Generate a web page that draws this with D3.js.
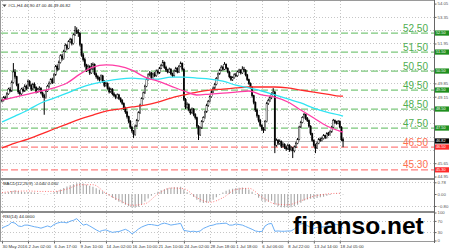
<!DOCTYPE html>
<html>
<head>
<meta charset="utf-8">
<script src="https://cdn.jsdelivr.net/npm/d3@7"></script>
<style>
  html, body { margin: 0; padding: 0; background: #fff; overflow: hidden; }
  svg { display: block; font-family: "Liberation Sans", Arial, sans-serif; }
</style>
</head>
<body>
<div id="chart"></div>
<script>
// ---- data (H4 bars, 30 May - 18 Jul 2016) ----
const closes = [
  48.95,49.10,49.05,49.30,49.55,49.45,49.90,50.45,50.20,49.80,
  49.40,49.30,49.55,49.45,49.70,49.60,49.95,49.75,49.55,49.80,
  49.65,49.40,49.55,49.60,49.35,49.20,49.10,49.45,49.70,49.85,
  50.05,49.90,50.30,50.75,50.60,50.95,51.30,51.15,51.55,51.85,
  51.70,52.05,52.15,51.95,52.40,52.65,52.55,52.50,51.90,51.35,
  51.10,50.80,50.55,50.75,50.40,50.60,50.85,50.35,50.20,50.10,
  50.05,50.25,49.95,49.75,49.85,49.60,49.40,49.55,49.30,49.20,
  49.10,49.25,49.05,48.95,48.80,48.55,48.35,48.10,47.85,47.55,
  47.35,47.15,47.60,47.90,48.30,48.70,49.05,49.35,49.70,50.05,
  50.30,50.40,50.15,50.35,50.25,50.50,50.40,50.65,50.80,50.95,
  50.70,50.55,50.45,50.60,50.35,50.25,50.50,50.65,50.45,50.75,
  50.90,50.60,49.00,48.60,48.75,48.45,48.30,48.50,48.20,48.05,
  47.60,47.15,47.50,47.85,48.05,48.35,48.70,48.90,49.15,49.40,
  49.60,49.80,50.10,50.35,50.55,50.70,50.60,50.85,50.65,50.45,
  50.20,50.05,50.15,50.30,50.25,50.45,50.55,50.40,50.60,50.55,
  50.30,50.05,49.85,49.65,49.20,48.85,48.45,48.15,47.90,47.65,
  47.45,47.40,47.85,48.80,48.95,49.10,49.30,49.40,46.60,46.85,
  46.70,46.80,46.55,46.65,46.50,46.40,46.60,46.35,46.45,46.30,
  46.50,46.70,46.90,47.55,47.80,48.05,48.20,48.00,47.90,47.60,
  47.20,46.85,46.60,46.45,46.70,46.90,46.85,46.95,47.10,47.00,
  47.20,47.15,47.30,47.55,47.90,47.80,47.75,47.85,47.55,46.90,
  46.82
];
const highs = [
  49.05,49.18,49.20,49.38,49.62,49.65,50.00,50.92,50.60,50.25,
  49.85,49.50,49.62,49.65,49.80,49.78,50.05,50.02,49.82,49.88,
  49.90,49.70,49.62,49.70,49.65,49.42,49.30,49.50,49.78,49.95,
  50.12,50.15,50.38,50.82,50.85,51.05,51.38,51.40,51.62,51.95,
  51.92,52.12,52.25,52.22,52.48,52.87,52.80,52.70,52.55,51.95,
  51.45,51.20,50.88,50.85,50.80,50.92,50.95,50.90,50.42,50.28,
  50.20,50.32,50.30,50.02,49.92,49.90,49.68,49.62,49.60,49.38,
  49.28,49.32,49.30,49.12,49.02,48.85,48.62,48.40,48.15,47.92,
  47.62,47.40,47.68,47.98,48.38,48.78,49.12,49.42,49.78,50.12,
  50.38,50.50,50.45,50.42,50.45,50.58,50.58,50.72,50.88,51.08,
  51.00,50.78,50.62,50.68,50.65,50.42,50.58,50.72,50.70,50.82,
  51.00,50.95,50.65,49.08,48.85,48.80,48.52,48.58,48.55,48.28,
  48.10,47.65,47.58,47.92,48.12,48.42,48.78,48.98,49.22,49.48,
  49.68,49.88,50.18,50.42,50.62,50.80,50.78,50.97,50.90,50.70,
  50.50,50.25,50.22,50.38,50.40,50.52,50.62,50.60,50.75,50.72,
  50.60,50.35,50.10,49.90,49.70,49.25,48.90,48.52,48.20,47.98,
  47.70,47.55,47.92,48.88,49.05,49.20,49.38,49.60,49.45,46.95,
  46.92,46.90,46.85,46.75,46.70,46.58,46.68,46.65,46.55,46.50,
  46.58,46.78,46.98,47.62,47.88,48.12,48.29,48.25,48.08,47.95,
  47.65,47.25,46.90,46.68,46.78,46.98,47.00,47.05,47.18,47.15,
  47.28,47.30,47.38,47.62,47.98,47.95,47.88,47.92,47.90,47.60,
  47.00
];
const lows = [
  48.85,48.90,48.98,49.00,49.25,49.38,49.40,49.85,50.10,49.70,
  49.30,49.20,49.25,49.38,49.40,49.50,49.55,49.68,49.45,49.50,
  49.58,49.32,49.35,49.48,49.28,49.10,48.20,49.05,49.40,49.62,
  49.80,49.82,49.85,50.25,50.50,50.55,50.90,51.05,51.10,51.50,
  51.60,51.65,51.98,51.85,51.90,52.35,52.45,52.30,51.80,51.25,
  51.00,50.70,50.45,50.50,50.30,50.35,50.55,50.28,50.10,50.00,
  49.95,50.00,49.88,49.65,49.68,49.52,49.32,49.35,49.22,49.12,
  49.02,49.05,48.98,48.85,48.72,48.45,48.25,48.00,47.75,47.45,
  47.25,46.97,47.10,47.55,47.85,48.25,48.65,49.00,49.30,49.65,
  50.00,50.22,50.08,50.10,50.18,50.20,50.32,50.35,50.60,50.75,
  50.62,50.45,50.38,50.40,50.28,50.18,50.20,50.45,50.38,50.40,
  50.70,50.52,48.92,48.50,48.52,48.38,48.20,48.25,48.12,47.95,
  47.50,46.87,47.08,47.45,47.80,48.00,48.30,48.62,48.85,49.10,
  49.35,49.55,49.75,50.05,50.30,50.50,50.52,50.55,50.58,50.38,
  50.12,49.98,49.98,50.10,50.18,50.20,50.40,50.32,50.35,50.45,
  50.22,49.98,49.78,49.55,49.10,48.75,48.35,48.05,47.80,47.55,
  47.35,47.24,47.35,47.80,48.72,48.88,49.02,49.25,46.18,46.52,
  46.60,46.62,46.45,46.48,46.40,46.30,46.35,46.25,46.28,45.92,
  46.22,46.45,46.65,46.85,47.50,47.75,48.00,47.92,47.82,47.52,
  47.12,46.78,46.52,46.18,46.40,46.65,46.78,46.80,46.90,46.92,
  46.95,47.08,47.10,47.25,47.50,47.72,47.68,47.70,47.48,46.82,
  46.49
];

// moving averages, read every 8th bar (plus the last one)
const maBars = d3.range(0, 209, 8).concat([210]);
const maPink = [48.97,49.13,49.29,49.45,49.61,49.87,50.34,50.71,50.82,50.76,50.55,50.18,49.97,49.71,
                49.45,49.24,49.29,49.34,49.39,49.45,49.24,49.13,48.87,48.45,48.03,47.61,47.34,47.29];
const maCyan = [47.82,48.13,48.45,48.82,49.08,49.34,49.61,49.82,49.97,50.08,50.13,50.08,50.08,50.18,
                50.18,50.13,50.08,49.97,49.76,49.61,49.45,49.24,49.03,48.82,48.55,48.34,48.18,48.13];
const maRed  = [46.45,46.71,46.92,47.18,47.45,47.71,47.97,48.18,48.39,48.50,48.61,48.71,48.87,49.08,
                49.24,49.39,49.50,49.55,49.61,49.66,49.66,49.66,49.61,49.50,49.39,49.29,49.18,49.18];

// MACD main (every 2nd bar) and signal (every 8th bar)
const macdBars = d3.range(0, 211, 2);
const macdMain = [
  0.05,0.08,0.12,0.2,0.25,0.2,0.15,0.13,0.14,0.12,
  0.1,0.06,0.02,-0.04,-0.02,0.03,0.1,0.2,0.3,0.4,
  0.5,0.58,0.65,0.72,0.74,0.7,0.62,0.55,0.48,0.38,
  0.28,0.18,0.06,-0.1,-0.25,-0.4,-0.52,-0.62,-0.72,-0.82,
  -0.9,-0.92,-0.85,-0.7,-0.5,-0.3,-0.12,0.05,0.15,0.25,
  0.32,0.38,0.42,0.45,0.45,0.48,0.3,0.12,-0.05,-0.2,
  -0.38,-0.55,-0.6,-0.58,-0.5,-0.38,-0.22,-0.05,0.1,0.22,
  0.3,0.35,0.4,0.42,0.44,0.4,0.3,0.15,-0.05,-0.25,
  -0.45,-0.55,-0.5,-0.45,-0.7,-0.82,-0.88,-0.9,-0.9,-0.88,
  -0.82,-0.72,-0.58,-0.45,-0.36,-0.32,-0.3,-0.27,-0.22,-0.18,
  -0.12,-0.06,0.0,0.03,0.04,-0.04
];
const signalBars = d3.range(0, 209, 8);
const macdSignal = [0.09,0.18,0.2,0.17,0.17,0.33,0.62,0.62,0.05,-0.4,-0.75,-0.65,0.0,0.4,
                    0.35,-0.25,-0.55,-0.25,0.3,0.38,-0.2,-0.65,-0.72,-0.45,-0.15,0.0,0.05];

// RSI(14), every 2nd bar
const rsiBars = d3.range(0, 211, 2);
const rsiValues = [
  45,50,55,65,62,52,50,55,55,52,
  49,47,44,48,52,48,57,62,65,65,
  63,69,72,78,66,55,58,52,45,38,
  32,36,38,33,29,31,32,36,40,34,
  24,31,41,48,53,57,57,55,53,59,
  62,59,55,57,59,61,36,34,32,33,
  31,34,43,48,53,55,59,60,61,62,
  55,55,59,57,55,50,45,40,34,32,
  32,52,59,61,33,34,33,33,34,34,
  41,52,59,61,53,47,43,47,48,48,
  52,53,59,57,55,44
];

// axes
const timeBars = d3.range(0, 209, 16);
const timeLabels = ["30 May 2016","2 Jun 02:00","6 Jun 17:00","9 Jun 10:00","14 Jun 02:00","16 Jun 10:00",
                    "21 Jun 10:00","24 Jun 02:00","28 Jun 18:00","1 Jul 18:00","6 Jul 06:00","8 Jul 22:00",
                    "13 Jul 14:00","18 Jul 05:00"];
const priceTicks = [54.05,53.35,52.65,51.95,51.25,50.55,49.85,49.15,48.45,47.75,47.05,46.35,45.65,44.95];
const macdTicks = [0.78, 0, -0.8];
const rsiTicks = [100, 70, 30, 0];
const greenLevels = [52.5, 51.5, 50.5, 49.5, 48.5, 47.5];
const redLevels = [46.5, 45.3];

// ---- layout ----
const W = 450, H = 251;
const left = 1, right = 434;
const mainTop = 1, mainBottom = 178;
const macdTop = 180, macdBottom = 211;
const rsiTop = 213, rsiBottom = 241;

const svg = d3.select("#chart").append("svg").attr("width", W).attr("height", H);

const x = d3.scaleLinear().domain([0, 266]).range([2, right]);
const y = d3.scaleLinear().domain([44.95, 54.05]).range([176.5, 3.6]);
const yMacd = d3.scaleLinear().domain([-0.9, 0.8]).range([207.5, 182]);
const yRsi = d3.scaleLinear().domain([0, 100]).range([240.5, 212.5]);

const gridColor = "#c6c6c6";
const tiny = 4.3;
const tinyFont = "Liberation Sans, Arial, sans-serif";
const last = closes.length - 1;

//clip paths for each panel
[["clipMain", mainTop, mainBottom], ["clipMacd", macdTop, macdBottom], ["clipRsi", rsiTop, rsiBottom]]
  .forEach(([id, t, b]) => {
    svg.append("clipPath").attr("id", id)
      .append("rect").attr("x", left).attr("y", t).attr("width", right - left).attr("height", b - t);
  });

//dotted grid, vertical lines in each panel
function vGrid(t, b) {
  svg.append("g").selectAll("line").data(timeBars).enter().append("line")
    .attr("x1", d => Math.round(x(d)) + 0.5).attr("x2", d => Math.round(x(d)) + 0.5)
    .attr("y1", t).attr("y2", b)
    .attr("stroke", gridColor).attr("stroke-width", 1).attr("stroke-dasharray", "1,2");
}
function hGrid(vals, scale) {
  svg.append("g").selectAll("line").data(vals).enter().append("line")
    .attr("x1", left).attr("x2", right)
    .attr("y1", d => Math.round(scale(d)) + 0.5).attr("y2", d => Math.round(scale(d)) + 0.5)
    .attr("stroke", gridColor).attr("stroke-width", 1).attr("stroke-dasharray", "1,2");
}
vGrid(mainTop, mainBottom);
vGrid(macdTop, macdBottom);
vGrid(rsiTop, rsiBottom);
hGrid(priceTicks.slice(1, -1), y);
hGrid([0.78, -0.8], yMacd);
hGrid([70, 30], yRsi);

// ---- main panel ----
const main = svg.append("g").attr("clip-path", "url(#clipMain)");

//level lines
main.selectAll(".glev").data(greenLevels).enter().append("line")
  .attr("x1", left).attr("x2", right)
  .attr("y1", d => y(d)).attr("y2", d => y(d))
  .attr("stroke", "#7cc87c").attr("stroke-width", 1.2).attr("stroke-dasharray", "7,3");
main.selectAll(".rlev").data(redLevels).enter().append("line")
  .attr("x1", left).attr("x2", right)
  .attr("y1", d => y(d)).attr("y2", d => y(d))
  .attr("stroke", "#ff8080").attr("stroke-width", 1.2).attr("stroke-dasharray", "7,3");

//bid line
main.append("line")
  .attr("x1", left).attr("x2", right)
  .attr("y1", Math.round(y(closes[last])) + 0.5).attr("y2", Math.round(y(closes[last])) + 0.5)
  .attr("stroke", "#bdbdbd").attr("stroke-width", 1);

//candles
const bars = closes.map((c, i) => ({
  i: i, o: i === 0 ? c : closes[i - 1], c: c, h: highs[i], l: lows[i]
}));
main.append("g").selectAll("line").data(bars).enter().append("line")
  .attr("x1", d => x(d.i)).attr("x2", d => x(d.i))
  .attr("y1", d => y(d.h)).attr("y2", d => y(d.l))
  .attr("stroke", "#000").attr("stroke-width", 1);
main.append("g").selectAll("rect").data(bars).enter().append("rect")
  .attr("x", d => x(d.i) - 0.7).attr("width", 1.4)
  .attr("y", d => y(Math.max(d.o, d.c)))
  .attr("height", d => Math.max(0.6, Math.abs(y(d.o) - y(d.c))))
  .attr("fill", d => d.c >= d.o ? "#fff" : "#000")
  .attr("stroke", "#000").attr("stroke-width", 0.4);

//moving averages
function maLine(vals, color) {
  const line = d3.line().x((d, k) => x(maBars[k])).y(d => y(d)).curve(d3.curveMonotoneX);
  main.append("path").datum(vals)
    .attr("d", line).attr("fill", "none")
    .attr("stroke", color).attr("stroke-width", 1.3);
}
maLine(maRed, "#ff2a2a");
maLine(maCyan, "#30e4f2");
maLine(maPink, "#ff3da6");

//level labels
svg.selectAll(".glab").data(greenLevels).enter().append("text")
  .attr("x", 428).attr("y", d => y(d) - 1.5)
  .attr("text-anchor", "end").attr("font-size", 10)
  .attr("fill", "#4fae4f").text(d => d.toFixed(2));
svg.selectAll(".rlab").data(redLevels).enter().append("text")
  .attr("x", 428).attr("y", d => y(d) - 1.5)
  .attr("text-anchor", "end").attr("font-size", 10)
  .attr("fill", "#ff7050").text(d => d.toFixed(2));

// ---- MACD panel ----
const macdG = svg.append("g").attr("clip-path", "url(#clipMacd)");
macdG.selectAll("line").data(macdMain).enter().append("line")
  .attr("x1", (d, k) => x(macdBars[k])).attr("x2", (d, k) => x(macdBars[k]))
  .attr("y1", yMacd(0)).attr("y2", d => yMacd(d))
  .attr("stroke", "#a8a8a8").attr("stroke-width", 1.1);
macdG.append("path").datum(macdSignal)
  .attr("d", d3.line().x((d, k) => x(signalBars[k])).y(d => yMacd(d)).curve(d3.curveMonotoneX))
  .attr("fill", "none").attr("stroke", "#ff4a4a").attr("stroke-width", 0.8)
  .attr("stroke-dasharray", "0.9,1.8");

// ---- RSI panel ----
const rsiG = svg.append("g").attr("clip-path", "url(#clipRsi)");
rsiG.append("path").datum(rsiValues)
  .attr("d", d3.line().x((d, k) => x(rsiBars[k])).y(d => yRsi(d)))
  .attr("fill", "none").attr("stroke", "#6aaef5").attr("stroke-width", 1);

// ---- frames and separators ----
svg.append("rect").attr("x", 0.5).attr("y", 0.5).attr("width", right).attr("height", rsiBottom)
  .attr("fill", "none").attr("stroke", "#9a9a9a");
[mainBottom, macdBottom].forEach(b => {
  svg.append("rect").attr("x", 0).attr("y", b).attr("width", right + 1).attr("height", 2).attr("fill", "#8a8a8a");
});
svg.append("line").attr("x1", right + 0.5).attr("x2", right + 0.5).attr("y1", 0).attr("y2", rsiBottom + 2)
  .attr("stroke", "#666");

// ---- right axes ----
//price tick labels that sit under a level box are hidden, like in the terminal
const boxPrices = greenLevels.concat(redLevels, [closes[last]]);
function rightAxis(scale, vals, fmt) {
  const g = svg.append("g").attr("transform", `translate(${right + 0.5},0)`)
    .call(d3.axisRight(scale).tickValues(vals).tickSize(2).tickPadding(1).tickFormat(fmt));
  g.select(".domain").remove();
  g.selectAll("line").attr("stroke", "#666");
  g.selectAll("text").attr("font-size", tiny).attr("fill", "#555").attr("font-family", tinyFont);
}
rightAxis(y, priceTicks.filter(p => boxPrices.every(b => Math.abs(y(p) - y(b)) > 5)), d3.format(".2f"));
rightAxis(yMacd, macdTicks, d3.format(".2f"));
rightAxis(yRsi, rsiTicks, d3.format("d"));

//price boxes on the axis
function axisBox(v, fill) {
  const yy = y(v);
  svg.append("rect").attr("x", right + 1).attr("y", yy - 2.6).attr("width", 14).attr("height", 5.2).attr("fill", fill);
  svg.append("text").attr("x", right + 2).attr("y", yy + 1.4)
    .attr("font-size", 3.8).attr("fill", "#fff").attr("font-family", tinyFont)
    .text(v.toFixed(2));
}
greenLevels.forEach(v => axisBox(v, "#1f8f1f"));
redLevels.forEach(v => axisBox(v, "#ff2b2b"));
axisBox(closes[last], "#000");

// ---- time axis ----
const xAxis = svg.append("g").attr("transform", `translate(0,${rsiBottom + 0.5})`)
  .call(d3.axisBottom(x).tickValues(timeBars).tickSize(2).tickPadding(1)
    .tickFormat((d, k) => timeLabels[k]));
xAxis.select(".domain").remove();
xAxis.selectAll("line").attr("stroke", "#666");
xAxis.selectAll("text").attr("text-anchor", "start").attr("dx", 0)
  .attr("font-size", tiny).attr("fill", "#333").attr("font-family", tinyFont);

// ---- titles ----
const o = closes[last - 1];
svg.append("path").attr("d", "M2.5,4.5 L6.5,4.5 L4.5,7 Z").attr("fill", "#444");
svg.append("text").attr("x", 8).attr("y", 7).attr("font-size", tiny).attr("fill", "#222")
  .attr("font-family", tinyFont)
  .text(`#CL,H4  ${o.toFixed(2)} ${highs[last].toFixed(2)} ${lows[last].toFixed(2)} ${closes[last].toFixed(2)}`);
svg.append("text").attr("x", 3).attr("y", 185).attr("font-size", tiny).attr("fill", "#222")
  .attr("font-family", tinyFont)
  .text(`MACD(12,26,9) ${macdMain[macdMain.length - 1].toFixed(3)} ${macdSignal[macdSignal.length - 1].toFixed(3)}`);
svg.append("text").attr("x", 3).attr("y", 217.5).attr("font-size", tiny).attr("fill", "#222")
  .attr("font-family", tinyFont)
  .text(`RSI(14) ${rsiValues[rsiValues.length - 1].toFixed(4)}`);

//watermark
svg.append("text").attr("x", 293).attr("y", 234)
  .attr("font-size", 24.5).attr("font-weight", "bold").attr("fill", "#000")
  .text("finanso.net");
</script>
</body>
</html>
